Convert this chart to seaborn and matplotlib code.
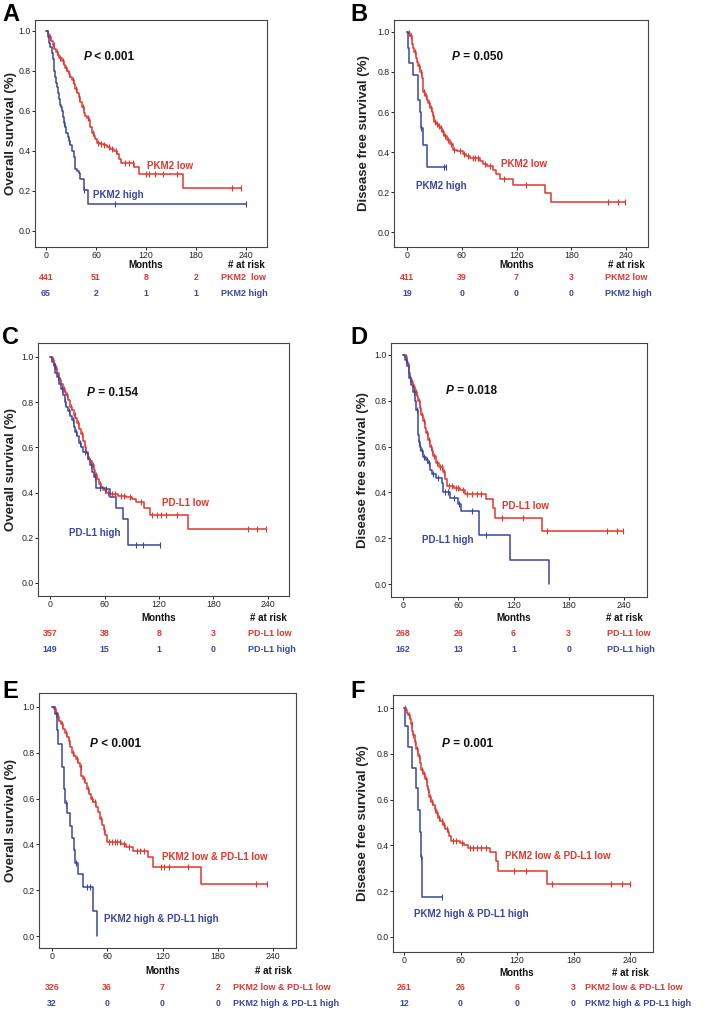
import numpy as np
import pandas as pd
import matplotlib
matplotlib.use("Agg")
import matplotlib.pyplot as plt
import seaborn as sns

sns.set_theme(style="white")
plt.rcParams["font.family"] = ["Liberation Sans", "DejaVu Sans"]

RED = "#e2362f"
BLUE = "#3a45a3"

# ---------------- DATA ----------------
# Panel A: overall survival by PKM2
a_low_t = [0, 2, 4, 6, 8, 10, 12, 14, 16, 19, 21, 23, 25, 27, 29, 31, 33, 35, 37, 39, 41, 43, 45, 47, 49, 51,
           53, 55, 57, 59, 61, 65, 69, 73, 77, 81, 85, 87, 90, 105, 111, 164]
a_low_s = [1.0, 0.985, 0.97, 0.95, 0.93, 0.91, 0.895, 0.88, 0.865, 0.85, 0.83, 0.815, 0.80, 0.785, 0.77, 0.755,
           0.735, 0.71, 0.69, 0.67, 0.645, 0.62, 0.59, 0.575, 0.565, 0.555, 0.52, 0.49, 0.475, 0.46, 0.44, 0.435,
           0.43, 0.42, 0.41, 0.40, 0.385, 0.36, 0.34, 0.32, 0.283, 0.213]
a_low_end = 234
a_low_cens = [5, 9, 13, 17, 20, 24, 28, 32, 36, 40, 44, 50, 56, 62, 66, 70, 75, 79, 84, 95, 100, 104, 120, 124, 131,
              140, 157, 223, 234]
a_high_t = [0, 2, 4, 5, 7, 8, 9, 10, 11, 12, 13, 14, 15, 16, 17, 18, 19, 20, 22, 23, 24, 26, 27, 29, 31, 33, 35,
            37, 39, 41, 45, 50]
a_high_s = [1.0, 0.97, 0.94, 0.92, 0.89, 0.86, 0.83, 0.80, 0.77, 0.74, 0.72, 0.69, 0.68, 0.66, 0.63, 0.62, 0.60,
            0.57, 0.54, 0.52, 0.49, 0.47, 0.45, 0.43, 0.40, 0.37, 0.31, 0.30, 0.29, 0.26, 0.205, 0.137]
a_high_end = 240
a_high_cens = [22, 28, 46, 83, 240]

# Panel B: disease free survival by PKM2
b_low_t = [0, 1, 3, 5, 6, 7, 8, 10, 11, 12, 14, 16, 17, 18, 20, 22, 23, 25, 27, 28, 30, 32, 34, 36, 38, 41, 44,
           47, 50, 55, 61, 65, 69, 80, 83, 88, 94, 98, 102, 116, 151, 158]
b_low_s = [1.0, 0.995, 0.98, 0.97, 0.94, 0.92, 0.90, 0.87, 0.85, 0.83, 0.80, 0.77, 0.73, 0.70, 0.68, 0.66, 0.645,
           0.62, 0.60, 0.58, 0.55, 0.54, 0.53, 0.52, 0.50, 0.48, 0.46, 0.44, 0.41, 0.405, 0.39, 0.38, 0.37, 0.355,
           0.34, 0.33, 0.31, 0.29, 0.265, 0.235, 0.195, 0.148]
b_low_end = 239
b_low_cens = [2, 4, 9, 13, 15, 19, 21, 24, 26, 29, 31, 33, 35, 37, 39, 42, 45, 48, 52, 58, 63, 67, 72, 75, 78, 86,
              91, 106, 130, 220, 231, 239]
b_high_t = [0, 1, 2, 7, 12, 14, 15, 18, 22]
b_high_s = [1.0, 0.92, 0.845, 0.785, 0.66, 0.60, 0.52, 0.435, 0.325]
b_high_end = 43
b_high_cens = [15, 40, 43]

# Panel C: overall survival by PD-L1
c_low_t = [0, 2, 4, 6, 8, 10, 12, 14, 16, 18, 20, 22, 24, 26, 28, 30, 32, 34, 36, 38, 40, 42, 44, 46, 48, 50, 52,
           54, 56, 58, 62, 66, 75, 84, 90, 95, 104, 110, 152]
c_low_s = [1.0, 0.985, 0.97, 0.95, 0.93, 0.90, 0.88, 0.86, 0.845, 0.83, 0.81, 0.78, 0.765, 0.745, 0.73, 0.71, 0.68,
           0.66, 0.63, 0.60, 0.58, 0.55, 0.54, 0.52, 0.50, 0.48, 0.46, 0.44, 0.425, 0.41, 0.40, 0.395, 0.385, 0.38,
           0.37, 0.36, 0.33, 0.30, 0.24]
c_low_end = 238
c_low_cens = [3, 7, 11, 15, 19, 23, 27, 31, 35, 39, 43, 47, 51, 55, 60, 64, 68, 72, 78, 82, 88, 100, 112, 118, 122,
              128, 140, 218, 228, 238]
c_high_t = [0, 2, 4, 6, 8, 10, 12, 14, 16, 18, 20, 22, 24, 26, 28, 30, 32, 34, 36, 40, 42, 44, 46, 48, 51, 60, 66,
            73, 80, 86]
c_high_s = [1.0, 0.98, 0.96, 0.93, 0.91, 0.88, 0.86, 0.83, 0.80, 0.78, 0.76, 0.74, 0.72, 0.69, 0.67, 0.65, 0.62,
            0.60, 0.58, 0.575, 0.55, 0.52, 0.49, 0.47, 0.42, 0.415, 0.38, 0.33, 0.285, 0.17]
c_high_end = 121
c_high_cens = [5, 9, 13, 17, 21, 25, 29, 33, 38, 45, 49, 55, 62, 95, 102, 121]

# Panel D: disease free survival by PD-L1
d_low_t = [0, 2, 4, 5, 6, 7, 8, 9, 11, 13, 15, 16, 18, 20, 22, 24, 25, 27, 29, 31, 33, 36, 39, 43, 46, 48, 55, 62,
           67, 90, 98, 100, 151]
d_low_s = [1.0, 0.99, 0.97, 0.96, 0.94, 0.92, 0.90, 0.88, 0.86, 0.84, 0.82, 0.80, 0.77, 0.74, 0.71, 0.68, 0.66,
           0.63, 0.60, 0.58, 0.56, 0.53, 0.51, 0.49, 0.46, 0.43, 0.42, 0.41, 0.395, 0.37, 0.33, 0.29, 0.233]
d_low_end = 239
d_low_cens = [3, 10, 12, 14, 17, 19, 21, 23, 26, 28, 30, 32, 34, 37, 40, 42, 45, 50, 53, 58, 60, 65, 70, 75, 80, 85,
              107, 130, 156, 222, 232, 239]
d_high_t = [0, 2, 4, 6, 7, 9, 11, 13, 14.5, 16, 17, 18, 20, 22, 25, 27, 29, 31, 36, 42, 43.5, 51, 60, 63, 83, 116,
            158.5]
d_high_s = [1.0, 0.98, 0.95, 0.92, 0.90, 0.87, 0.84, 0.80, 0.76, 0.65, 0.62, 0.60, 0.58, 0.555, 0.54, 0.53, 0.50,
            0.48, 0.465, 0.44, 0.40, 0.375, 0.35, 0.32, 0.215, 0.105, 0.0]
d_high_end = 158.5
d_high_cens = [3, 8, 12, 15, 17, 19, 21, 23, 26, 28, 33, 38, 46, 49, 55, 61, 75, 90]

# Panel E: overall survival, PKM2 & PD-L1 combined
e_low_t = [0, 2, 4, 6, 8, 10, 12, 14, 16, 18, 20, 22, 24, 26, 28, 30, 32, 34, 36, 38, 40, 42, 44, 48, 50, 52, 54,
           56, 58, 59.5, 75, 80, 88, 104, 110, 162]
e_low_s = [1.0, 0.99, 0.975, 0.955, 0.94, 0.925, 0.905, 0.885, 0.87, 0.85, 0.825, 0.80, 0.785, 0.775, 0.755, 0.74,
           0.70, 0.685, 0.67, 0.64, 0.62, 0.60, 0.585, 0.565, 0.54, 0.51, 0.485, 0.465, 0.44, 0.41, 0.40, 0.39,
           0.37, 0.345, 0.30, 0.225]
e_low_end = 233
e_low_cens = [3, 7, 11, 15, 19, 23, 27, 31, 35, 39, 43, 47, 53, 57, 62, 65, 68, 71, 74, 78, 84, 92, 96, 100, 118,
              122, 127, 148, 222, 233]
e_high_t = [0, 3.6, 5, 7, 11, 12.6, 14.4, 16, 20, 21.7, 23.5, 25, 28, 33.6, 44, 49]
e_high_s = [1.0, 0.97, 0.90, 0.84, 0.74, 0.64, 0.58, 0.535, 0.48, 0.43, 0.375, 0.32, 0.27, 0.215, 0.107, 0.0]
e_high_end = 49
e_high_cens = [4, 15, 26, 38, 41]

# Panel F: disease free survival, PKM2 & PD-L1 combined
f_low_t = [0, 2, 3, 4.3, 6, 7.8, 8.5, 9.6, 11.3, 13, 15, 17, 18.4, 20, 22, 24, 25.5, 27, 29, 31, 32.6, 34, 36, 38,
           41.5, 44, 47, 48, 50, 59, 64, 68, 91, 98, 100, 152]
f_low_s = [1.0, 0.99, 0.98, 0.97, 0.95, 0.93, 0.90, 0.88, 0.85, 0.82, 0.79, 0.76, 0.73, 0.71, 0.69, 0.66, 0.64,
           0.61, 0.59, 0.575, 0.56, 0.54, 0.52, 0.505, 0.49, 0.47, 0.46, 0.44, 0.42, 0.41, 0.40, 0.39, 0.37, 0.33,
           0.29, 0.23]
f_low_end = 240
f_low_cens = [1, 5, 8, 10, 12, 14, 16, 19, 21, 23, 26, 28, 30, 33, 35, 37, 40, 43, 46, 52, 55, 62, 70, 73, 77, 82,
              87, 117, 130, 157, 220, 231, 240]
f_high_t = [0, 1.4, 4.3, 8.5, 13, 15, 16.7, 17.7, 19]
f_high_s = [1.0, 0.92, 0.83, 0.74, 0.65, 0.555, 0.46, 0.35, 0.175]
f_high_end = 40
f_high_cens = [18, 40]

# Texts
letters = ["A", "B", "C", "D", "E", "F"]
ylabels = ["Overall survival (%)", "Disease free survival (%)"] * 3
pvals = ["< 0.001", "= 0.050", "= 0.154", "= 0.018", "< 0.001", "= 0.001"]
low_names = ["PKM2 low", "PKM2 low", "PD-L1 low", "PD-L1 low", "PKM2 low & PD-L1 low", "PKM2 low & PD-L1 low"]
high_names = ["PKM2 high", "PKM2 high", "PD-L1 high", "PD-L1 high", "PKM2 high & PD-L1 high",
              "PKM2 high & PD-L1 high"]
risk_low_names = ["PKM2  low", "PKM2 low", "PD-L1 low", "PD-L1 low", "PKM2 low & PD-L1 low", "PKM2 low & PD-L1 low"]
risk_low = [[441, 51, 8, 2], [411, 39, 7, 3], [357, 38, 8, 3], [268, 26, 6, 3], [326, 36, 7, 2], [261, 26, 6, 3]]
risk_high = [[65, 2, 1, 1], [19, 0, 0, 0], [149, 15, 1, 0], [162, 13, 1, 0], [32, 0, 0, 0], [12, 0, 0, 0]]
risk_times = [0, 60, 120, 180]
xticks = [0, 60, 120, 180, 240]
yticks = [0.0, 0.2, 0.4, 0.6, 0.8, 1.0]

curves = [
    ((a_low_t, a_low_s, a_low_end, a_low_cens), (a_high_t, a_high_s, a_high_end, a_high_cens)),
    ((b_low_t, b_low_s, b_low_end, b_low_cens), (b_high_t, b_high_s, b_high_end, b_high_cens)),
    ((c_low_t, c_low_s, c_low_end, c_low_cens), (c_high_t, c_high_s, c_high_end, c_high_cens)),
    ((d_low_t, d_low_s, d_low_end, d_low_cens), (d_high_t, d_high_s, d_high_end, d_high_cens)),
    ((e_low_t, e_low_s, e_low_end, e_low_cens), (e_high_t, e_high_s, e_high_end, e_high_cens)),
    ((f_low_t, f_low_s, f_low_end, f_low_cens), (f_high_t, f_high_s, f_high_end, f_high_cens)),
]

# ---------------- LAYOUT (pixels) ----------------
W, H = 709, 1011
# axes box: left, top, right, bottom ; data mapping: x0px, x240px, y1px, y0px
boxes = [(35, 20, 267, 247), (394, 20, 648, 247), (38, 343, 289, 596),
         (391, 343, 647, 597), (39, 693, 296, 948), (393, 695, 653, 952)]
maps = [(46, 246, 31, 231), (407, 626, 32, 232), (50, 268, 357, 583),
        (403, 624, 355, 584), (52, 273, 707, 936), (404, 630, 708, 937)]
letter_pos = [(2, 3), (350, 3), (2, 326), (350, 326), (2, 680), (350, 680)]
ylabel_px = [10, 363, 10, 362, 10, 362]
ptext_pos = [(45, 0.87), (49, 0.874), (41, 0.84), (47, 0.843), (41, 0.84), (40, 0.844)]
low_lab = [(121, 0.325), (103, 0.34), (123, 0.356), (108, 0.339), (119, 0.345), (107, 0.355)]
high_lab = [(56, 0.18), (10, 0.23), (21, 0.22), (21, 0.193), (57, 0.076), (11, 0.10)]
risk_label_x = [210, 217, 218, 222, 197, 192]
rows_px = [(265, 277, 293), (265, 277, 293), (618, 634, 650), (618, 634, 650), (971, 988, 1003), (973, 988, 1003)]

fig = plt.figure(figsize=(W / 100, H / 100), dpi=100)


def surv_at(ts, ss, t):
    v = ss[0]
    for ti, si in zip(ts, ss):
        if ti <= t:
            v = si
    return v


def draw_curve(ax, data, color):
    ts, ss, end, cens = data
    xs = list(ts) + [end]
    ys = list(ss) + [ss[-1]]
    df = pd.DataFrame({"t": xs, "s": ys})
    sns.lineplot(data=df, x="t", y="s", drawstyle="steps-post", estimator=None, sort=False,
                 color=color, linewidth=1.1, ax=ax)
    cdf = pd.DataFrame({"t": cens, "s": [surv_at(ts, ss, c) for c in cens]})
    sns.scatterplot(data=cdf, x="t", y="s", marker="|", s=16, color=color, linewidth=0.8, ax=ax, zorder=3)


for i in range(6):
    L, T, R, B = boxes[i]
    x0, x240, y1, y0 = maps[i]
    ax = fig.add_axes([L / W, 1 - B / H, (R - L) / W, (B - T) / H])
    sx = (x240 - x0) / 240.0
    sy = (y0 - y1)
    ax.set_xlim((L - x0) / sx, (R - x0) / sx)
    ax.set_ylim((y0 - B) / sy, (y0 - T) / sy)

    draw_curve(ax, curves[i][0], RED)
    draw_curve(ax, curves[i][1], BLUE)

    ax.set_xticks(xticks)
    ax.set_yticks(yticks)
    ax.set_xticklabels([str(v) for v in xticks])
    ax.set_yticklabels([f"{v:.1f}" for v in yticks])
    ax.tick_params(axis="both", which="major", direction="out", length=2.2, width=0.7,
                   labelsize=6.3, pad=0.8, colors="#222222", bottom=True, left=True)
    for sp in ax.spines.values():
        sp.set_visible(True)
        sp.set_color("#444444")
        sp.set_linewidth(0.8)
    ax.set_xlabel("")
    ax.set_ylabel(ylabels[i], fontsize=9.5, fontweight="bold", color="#222222")
    ax.yaxis.set_label_coords((ylabel_px[i] + 7 - L) / (R - L), 0.5)

    # P value
    px, py = ptext_pos[i]
    tp = ax.text(px, py, "P", fontsize=8.5, fontweight="bold", fontstyle="italic", va="center", ha="left",
                 color="#111111")
    ax.annotate(" " + pvals[i], xy=(1, 0.5), xycoords=tp, va="center", ha="left", fontsize=8.5,
                fontweight="bold", color="#111111")

    # curve labels
    ax.text(low_lab[i][0], low_lab[i][1], low_names[i], color=RED, fontsize=7, fontweight="bold",
            va="center", ha="left")
    ax.text(high_lab[i][0], high_lab[i][1], high_names[i], color=BLUE, fontsize=7, fontweight="bold",
            va="center", ha="left")

    # Months / at-risk table (figure pixel rows mapped to axes fraction)
    def yfrac(ypx):
        return (B - ypx) / (B - T)

    my, r1, r2 = rows_px[i]
    tr = ax.get_xaxis_transform()
    ax.text(120, yfrac(my), "Months", transform=tr, fontsize=7, fontweight="bold", ha="center", va="center",
            color="#111111", clip_on=False)
    ax.text(240, yfrac(my), "# at risk", transform=tr, fontsize=7, fontweight="bold", ha="center",
            va="center", color="#111111", clip_on=False)
    for tval, n in zip(risk_times, risk_low[i]):
        ax.text(tval, yfrac(r1), str(n), transform=tr, fontsize=6.3, fontweight="bold", ha="center",
                va="center", color=RED, clip_on=False)
    for tval, n in zip(risk_times, risk_high[i]):
        ax.text(tval, yfrac(r2), str(n), transform=tr, fontsize=6.3, fontweight="bold", ha="center",
                va="center", color=BLUE, clip_on=False)
    ax.text(risk_label_x[i], yfrac(r1), risk_low_names[i], transform=tr, fontsize=6.5, fontweight="bold",
            ha="left", va="center", color=RED, clip_on=False)
    ax.text(risk_label_x[i], yfrac(r2), high_names[i], transform=tr, fontsize=6.5, fontweight="bold",
            ha="left", va="center", color=BLUE, clip_on=False)

    lx, ly = letter_pos[i]
    fig.text(lx / W, 1 - ly / H, letters[i], fontsize=17, fontweight="bold", ha="left", va="top",
             color="black")

fig.savefig("out.png", dpi=100, facecolor="white")
